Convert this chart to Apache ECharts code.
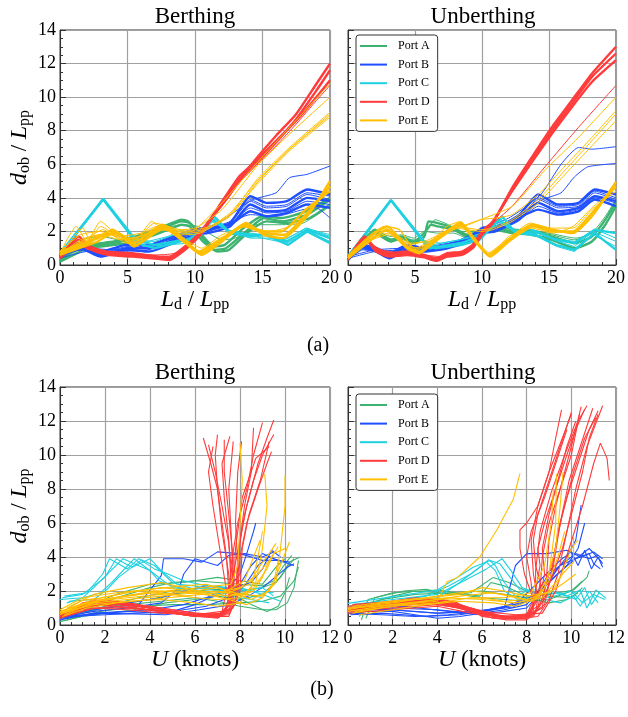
<!DOCTYPE html>
<html><head><meta charset="utf-8">
<script src="https://cdn.jsdelivr.net/npm/echarts@6/dist/echarts.min.js"></script>
<style>html,body{margin:0;padding:0;background:#fff}#c{width:628px;height:717px}</style>
</head><body><div id="c"></div>
<script>
const portNames = ['Port A', 'Port B', 'Port C', 'Port D', 'Port E'];
const portColors = ['#3cb371', '#1f4fff', '#1fd1e0', '#ff3b3b', '#ffbf00'];
const ldTicks = [0, 5, 10, 15, 20];
const uTicks = [0, 2, 4, 6, 8, 10, 12];
const dTicks = [0, 2, 4, 6, 8, 10, 12, 14];

// ---------- (a) Berthing, d_ob/L_pp vs L_d/L_pp ----------
const berthLdBand_A = [
  [[0,0.3],[1,0.8],[2,1.1],[3,1.2],[4,1.3],[5,1.5],[6,1.7],[7,1.9],[8,2.3],[9,2.6],[9.6,2.5],[10.6,1.6],[11.5,0.9],[12.3,1.0],[13.8,2.0],[15.1,2.8],[16.5,2.6],[18.3,3.0],[20,3.9]],
  [[0,0.2],[1,0.6],[2,1.0],[3,1.1],[4,1.2],[5,1.3],[6,1.5],[7,1.8],[8,2.1],[9,2.4],[9.6,2.3],[10.6,1.4],[11.7,0.8],[12.5,0.9],[14,2.0],[15.3,2.6],[16.7,2.5],[18.5,2.8],[20,3.6]],
  [[0,0.4],[1,1.0],[2,1.2],[3,1.3],[4,1.4],[5,1.6],[6,1.8],[7,2.1],[8,2.4],[9,2.7],[9.5,2.6],[10.5,1.8],[11.4,1.1],[12.2,1.2],[13.6,2.2],[15,2.9],[16.4,2.8],[18.2,3.2],[20,4.0]]
];
const berthLdThin_A = [
  [[0,0.5],[1.5,1.5],[3,1.7],[5,1.4],[7,2.0],[9,2.4],[10.2,2.3],[11,1.9],[12,1.5],[13,1.6],[14.5,2.4],[16,2.4],[18,2.5],[20,3.5]]
];
const berthLdBand_B = [
  [[0,0.5],[0.8,1.1],[1.5,1.2],[3,0.6],[4,0.8],[4.9,1.0],[6.6,1.0],[8.4,1.5],[9.9,2.0],[10.9,2.1],[12.6,2.5],[14.1,4.1],[15.3,3.7],[16.8,3.8],[18.3,4.5],[20,4.2]],
  [[0,0.4],[0.8,0.9],[1.5,1.0],[3,0.5],[4,0.7],[4.9,0.9],[6.6,0.8],[8.4,1.3],[9.9,1.8],[10.9,1.9],[12.6,2.3],[14.1,3.6],[15.3,3.2],[16.8,3.3],[18.3,4.0],[20,3.8]],
  [[0,0.6],[0.8,1.2],[1.5,1.3],[3,0.8],[4,1.0],[4.9,1.2],[6.6,1.2],[8.4,1.7],[9.9,2.1],[10.9,2.2],[12.6,2.4],[14.1,3.2],[15.3,2.9],[16.8,3.1],[18.3,3.6],[20,3.4]]
];
const berthLdThin_B = [
  [[0,0.5],[1,1.0],[2,0.9],[3,0.7],[5,1.1],[7,1.0],[8.5,1.6],[10,2.0],[11,2.2],[12.6,2.6],[14.1,3.9],[15.3,3.5],[16.8,3.6],[18.3,4.3],[20,4.1]],
  [[0,0.5],[2,1.0],[4,0.9],[6,1.1],[8,1.5],[10,2.1],[11.5,2.4],[13,3.2],[14.3,3.9],[16,4.3],[17,5.2],[18.3,5.4],[20,5.9]],
  [[0,0.4],[2,0.8],[4,0.8],[6,1.0],[8,1.4],[10,1.9],[12,2.3],[14.1,3.0],[16,2.9],[18,3.3],[19,3.4],[20,2.8]],
  [[0,0.5],[1,1.1],[2,1.0],[3,0.6],[4.5,0.9],[6.5,1.1],[8.4,1.6],[9.9,1.9],[10.9,2.0],[12.6,2.5],[14.1,3.8],[15.3,3.4],[16.8,3.5],[18.3,4.2],[20,3.9]],
  [[0,0.4],[1,0.9],[2,0.8],[3,0.5],[4.5,0.8],[6.5,0.9],[8.4,1.4],[9.9,1.9],[10.9,2.0],[12.6,2.4],[14.1,3.4],[15.3,3.1],[16.8,3.2],[18.3,3.8],[20,3.6]]
];
const berthLdBand_C = [
  [[0,0.6],[3.2,3.95],[5.6,1.5],[7,1.2],[8.5,1.4],[9.7,1.5],[10.5,1.9],[11.4,2.9],[12.6,1.9],[14.1,1.7],[15.3,1.8],[16.8,1.4],[18.3,2.1],[20,1.6]],
  [[0,0.7],[3.2,3.9],[5.7,1.3],[7,1.0],[8.5,1.3],[9.7,1.6],[10.5,2.1],[11.3,2.7],[12.5,2.0],[14,1.8],[15.2,1.8],[16.9,1.2],[18.3,2.0],[20,1.3]]
];
const berthLdThin_C = [
  [[0,0.5],[3.2,3.9],[5.4,1.7],[6.5,1.4],[8,1.7],[9,2.1],[10,1.6],[11,2.5],[11.6,2.8],[12.7,1.8],[14.2,1.9],[15.4,1.7],[16.7,1.5],[18.2,2.2],[20,1.8]],
  [[0,0.6],[3.2,3.9],[5.5,1.6],[6.2,1.1],[8,1.2],[9.5,1.3],[10.3,1.8],[11.2,2.6],[12.4,2.1],[13.5,1.9],[15,1.6],[16.8,1.3],[18.4,2.0],[20,1.4]],
  [[0,0.6],[3.2,3.9],[5.5,1.5],[7,1.4],[8.5,1.8],[9.5,1.9],[10.4,1.7],[11.4,2.7],[12.6,2.0],[14.1,1.6],[15.3,1.6],[16.8,1.6],[18.3,2.2],[20,1.7]]
];
const berthLdBand_D = [
  [[0,0.5],[1.4,1.7],[2,1.2],[3.5,0.7],[5.4,0.6],[7.4,0.4],[8.1,0.4],[9.4,1.1],[10.4,1.9],[12.1,3.9],[13.3,5.3],[14.6,6.25],[16,7.4],[17.5,8.6],[19,10.0],[20,11.0]],
  [[0,0.6],[1.4,1.5],[2,1.1],[3.5,0.8],[5.4,0.7],[7.4,0.5],[8.1,0.5],[9.4,1.2],[10.4,2.0],[12.1,3.7],[13.3,5.0],[14.6,6.1],[16,7.3],[17.5,8.7],[19,10.4],[20,11.6]],
  [[0,0.4],[1.4,1.3],[2,1.0],[3.5,0.6],[5.4,0.5],[7.4,0.35],[8.1,0.3],[9.4,1.0],[10.4,1.8],[12.1,3.8],[13.3,5.1],[14.6,6.4],[16,7.7],[17.5,9.0],[19,10.8],[20,12.0]]
];
const berthLdThin_D = [
  [[0,0.5],[1.5,1.2],[3,0.8],[5,0.7],[7,0.6],[8.5,0.7],[9.5,1.3],[10.4,2.0],[12.1,3.6],[13.3,4.9],[14.6,6.0],[16,7.1],[17.5,8.4],[19,9.8],[20,10.7]]
];
const berthLdBand_E = [
  [[0,0.8],[2.1,1.4],[2.8,1.6],[3.9,2.1],[5.5,1.1],[7.65,2.3],[9.2,1.5],[10.4,0.7],[12,1.5],[13.8,2.5],[15.1,1.8],[16.5,1.6],[18.3,2.9],[20,5.0]],
  [[0,0.6],[2.1,1.2],[2.8,1.4],[4.1,2.0],[5.6,1.2],[7.7,2.2],[9.3,1.3],[10.5,0.6],[12,1.4],[13.7,2.4],[15.2,1.9],[16.6,1.8],[18.3,3.1],[20,4.7]],
  [[0,0.7],[2.1,1.3],[2.8,1.7],[4.3,1.9],[5.4,1.3],[7.6,2.4],[9.1,1.6],[10.3,0.8],[12,1.6],[13.6,2.3],[15,2.0],[16.4,2.0],[18.2,3.3],[20,4.4]]
];
const berthLdThin_E = [
  [[0,0.7],[1.2,2.3],[2,1.4],[3,2.6],[4.2,1.8],[5.5,1.4],[6.8,2.6],[7.5,2.2],[9,2.0],[10,2.1],[11.1,2.3],[12.6,3.1],[14.6,5.0],[17,6.9],[20,9.0]],
  [[0,0.6],[1.7,2.2],[2.2,1.5],[3,2.3],[4.5,1.6],[5.5,1.5],[7.0,2.5],[8,2.3],[9.5,2.0],[10.6,2.1],[12.6,3.0],[14.6,4.8],[17,6.8],[20,8.8]],
  [[0,0.8],[1.5,1.8],[3,2.0],[4.2,1.7],[6,1.9],[7.2,2.3],[8.5,2.1],[10,2.2],[12,3.3],[14.6,5.9],[17,7.8],[20,10.0]],
  [[0,0.6],[1.5,1.5],[3,1.8],[4.5,1.5],[6,1.7],[7.5,2.1],[9,1.9],[10,2.1],[12,3.7],[14.6,6.1],[17,8.2],[20,10.8]],
  [[0,0.7],[2,1.6],[3.5,1.9],[5,1.3],[6.5,2.0],[8,2.2],[9,1.8],[10.4,1.9],[12.6,3.0],[14.6,5.1],[17,7.0],[20,9.1]],
  [[0,0.6],[1.8,1.5],[3.2,2.1],[4.6,1.5],[6.2,1.8],[7.8,2.3],[9.2,1.9],[10.5,2.0],[12.6,2.9],[14.6,4.9],[17,6.9],[20,8.9]],
  [[0,0.7],[2,1.5],[4,1.8],[6,1.5],[7.7,2.1],[9.3,1.5],[10.5,1.0],[12,1.8],[13.8,2.3],[15.5,2.0],[17,2.3],[18.5,3.2],[20,4.6]]
];

// ---------- (a) Unberthing ----------
const unberthLdBand_A = [
  [[0,0.4],[1.2,1.5],[2.0,2.1],[3.2,1.5],[4.0,1.7],[4.9,1.4],[5.7,1.9],[6.2,2.4],[6.7,2.3],[7.9,2.1],[8.9,1.7],[9.9,1.9],[11,2.2],[12.25,2.0],[13.7,2.0],[15.2,1.7],[16.9,1.3],[18.2,1.7],[19.2,2.7],[20,3.8]],
  [[0,0.3],[1.2,1.3],[2.0,1.9],[3.2,1.4],[4.0,1.6],[4.9,1.3],[5.7,1.7],[6.0,2.6],[6.7,2.5],[7.9,2.2],[8.9,1.8],[9.9,2.0],[11,2.1],[12.25,1.9],[13.7,1.8],[15.2,1.5],[16.9,1.0],[18.2,1.4],[19.2,2.4],[20,3.5]]
];
const unberthLdThin_A = [
  [[0,0.5],[1.2,1.6],[2.0,2.0],[3.2,1.7],[4.0,1.8],[4.9,1.6],[5.7,2.0],[6.7,1.9],[7.9,1.9],[8.9,1.6],[9.9,1.8],[11,2.3],[12.25,2.1],[13.7,2.1],[15.2,1.8],[16.9,1.5],[18.2,1.9],[19.2,2.9],[20,3.9]],
  [[0,0.4],[1.5,1.4],[2.2,1.8],[3.5,1.5],[5,1.5],[5.9,2.1],[6.5,2.7],[7.5,2.4],[8.5,2.0],[10,2.0],[11.5,2.2],[13,2.1],[15,1.9],[17,1.6],[18.5,2.0],[20,3.6]]
];
const unberthLdBand_B = [
  [[0,0.3],[1.1,1.1],[2.1,0.9],[3.1,0.5],[4.4,1.1],[5.7,0.9],[7.4,1.1],[9,1.5],[10,2.1],[11,2.1],[12.7,2.9],[14.2,4.2],[15.7,3.6],[17.2,3.7],[18.4,4.5],[20,4.2]],
  [[0,0.4],[1.1,1.0],[2.1,0.8],[3.1,0.4],[4.4,0.9],[5.7,0.8],[7.4,1.0],[9,1.4],[10,1.9],[11,2.0],[12.7,2.7],[14.2,3.7],[15.7,3.2],[17.2,3.4],[18.4,4.1],[20,3.8]],
  [[0,0.5],[1.1,1.2],[2.1,1.0],[3.1,0.7],[4.4,1.2],[5.7,1.0],[7.4,1.2],[9,1.6],[10,2.2],[11,2.3],[12.7,2.8],[14.2,3.3],[15.7,3.0],[17.2,3.2],[18.4,3.9],[20,3.5]]
];
const unberthLdThin_B = [
  [[0,0.4],[1,1.0],[2,0.9],[3,0.6],[4.5,1.0],[6,1.0],[7.5,1.1],[9,1.5],[10,2.0],[11,2.2],[12.7,3.0],[14.2,4.0],[15.7,3.5],[17.2,3.6],[18.4,4.4],[20,4.0]],
  [[0,0.5],[2,0.9],[4,1.0],[6,1.1],[8,1.4],[10,2.1],[12,2.8],[13.5,3.6],[14.5,4.3],[15.9,6.0],[17.2,7.0],[18.2,6.9],[20,7.05]],
  [[0,0.4],[2,0.8],[4,0.9],[6,1.0],[8,1.3],[10,2.0],[12,2.6],[13.5,3.4],[14.5,3.9],[15.9,4.3],[16.9,5.25],[17.9,5.85],[20,6.05]],
  [[0,0.4],[1.1,1.1],[2.1,0.9],[3.1,0.6],[4.4,1.0],[5.7,0.9],[7.4,1.1],[9,1.5],[10,2.0],[11,2.1],[12.7,2.8],[14.2,3.9],[15.7,3.4],[17.2,3.5],[18.4,4.3],[20,3.9]],
  [[0,0.3],[1.1,0.9],[2.1,0.8],[3.1,0.5],[4.4,0.9],[5.7,0.8],[7.4,1.0],[9,1.4],[10,1.9],[11,2.0],[12.7,2.6],[14.2,3.5],[15.7,3.1],[17.2,3.3],[18.4,4.0],[20,3.7]]
];
const unberthLdBand_C = [
  [[0,0.5],[3.2,3.87],[5.7,1.4],[6.1,1.0],[8.5,1.3],[9.8,1.7],[11.5,2.9],[12.5,1.9],[14,2.0],[15.5,1.5],[16.9,1.3],[18.4,2.1],[20,1.9]],
  [[0,0.4],[3.2,3.85],[5.8,1.2],[6.5,1.0],[8.5,1.2],[9.8,1.5],[11.3,2.7],[12.4,2.0],[14,1.8],[15.5,1.2],[16.9,0.9],[18.4,1.9],[20,0.9]]
];
const unberthLdThin_C = [
  [[0,0.6],[3.2,3.85],[5.6,1.5],[6.3,1.2],[8.3,1.5],[10,1.9],[11.6,2.8],[12.7,1.8],[14.2,1.9],[15.7,1.4],[16.9,1.1],[18.3,2.0],[20,1.4]],
  [[0,0.5],[3.2,3.85],[5.7,1.3],[6.8,1.1],[8.7,1.4],[10,1.8],[11.2,2.6],[12.3,2.1],[13.8,2.1],[15.3,1.6],[16.9,1.4],[18.5,2.1],[20,1.6]],
  [[0,0.5],[3.2,3.85],[5.6,1.4],[7,1.3],[9,1.6],[10.3,2.0],[11.4,2.5],[12.6,1.9],[14.1,1.7],[15.6,1.1],[16.9,0.8],[18.3,1.8],[20,1.1]]
];
const unberthLdBand_D = [
  [[0,0.35],[1.26,1.7],[2.1,0.9],[3.1,0.6],[4.4,0.7],[5.7,0.5],[6.6,0.3],[7.4,0.6],[8.5,0.7],[9.3,1.1],[10,1.9],[10.8,2.5],[12.25,4.5],[13.7,6.25],[15.2,8.0],[16.7,9.6],[18.2,11.2],[20,12.6]],
  [[0,0.45],[1.26,1.5],[2.1,1.0],[3.1,0.7],[4.4,0.8],[5.7,0.6],[6.6,0.4],[7.4,0.7],[8.5,0.8],[9.3,1.2],[10,2.0],[10.8,2.6],[12.25,4.4],[13.7,6.1],[15.2,7.8],[16.7,9.4],[18.2,10.9],[20,12.2]],
  [[0,0.3],[1.26,1.6],[2.1,0.8],[3.1,0.5],[4.4,0.6],[5.7,0.45],[6.6,0.25],[7.4,0.5],[8.5,0.6],[9.3,1.0],[10,1.8],[10.8,2.5],[12.25,4.6],[13.7,6.4],[15.2,8.2],[16.7,9.8],[18.2,11.4],[20,13.0]]
];
const unberthLdThin_D = [
  [[0,0.4],[1.3,1.4],[2.5,0.9],[4,0.7],[5.5,0.6],[7,0.5],[8.5,0.8],[9.3,1.1],[10,1.9],[12.25,3.5],[14.7,5.85],[17.2,8.2],[20,10.7]]
];
const unberthLdBand_E = [
  [[0,0.5],[1.4,1.5],[2.9,2.3],[4.4,1.1],[5.3,0.8],[6.5,1.5],[8.4,2.5],[9.5,1.5],[10.5,0.6],[12,1.5],[13.7,2.4],[15.3,2.1],[16.8,1.9],[18.2,2.9],[20,4.95]],
  [[0,0.4],[1.4,1.3],[2.9,2.1],[4.4,1.0],[5.3,0.7],[6.5,1.4],[8.4,2.4],[9.6,1.3],[10.6,0.5],[12,1.4],[13.8,2.3],[15.3,2.0],[16.8,2.0],[18.2,3.1],[20,4.7]]
];
const unberthLdThin_E = [
  [[0,0.6],[1.4,1.6],[2.8,2.3],[3.9,2.1],[4.9,0.9],[6,1.3],[7.4,2.3],[8.4,2.6],[9.4,1.6],[10.4,0.7],[12,1.6],[13.6,2.5],[15.2,2.2],[16.8,2.2],[18.2,3.3],[20,4.4]],
  [[0,0.5],[1.5,1.7],[2.7,2.3],[3.8,2.1],[5,1.0],[6.5,1.6],[8,2.3],[9.9,2.1],[10.8,2.2],[12.25,2.7],[14.2,3.9],[16.2,5.65],[18.2,7.4],[20,9.0]],
  [[0,0.4],[1.5,1.4],[2.8,2.0],[4,1.6],[5.2,0.9],[6.7,1.7],[8,2.2],[9.9,2.0],[10.8,2.1],[12.25,2.6],[14.2,3.7],[16.2,5.4],[18.2,7.1],[20,8.6]],
  [[0,0.5],[1.6,1.5],[3,1.9],[4.5,1.2],[6,1.5],[7.5,2.1],[8.8,2.4],[9.9,2.7],[11,2.8],[12.25,3.0],[14.2,4.2],[16.2,5.9],[18.2,7.6],[20,9.2]],
  [[0,0.5],[1.5,1.4],[3,1.8],[4.5,1.3],[6,1.4],[7.5,2.0],[9,2.4],[9.9,2.7],[12.25,3.5],[14.7,5.65],[17.2,7.6],[20,10.0]],
  [[0,0.5],[1.5,1.6],[2.8,2.2],[4.2,1.2],[5.5,1.0],[7,1.8],[8.4,2.3],[9.6,1.4],[10.6,0.7],[12,1.7],[13.7,2.2],[15.3,1.9],[16.8,2.3],[18.2,3.4],[20,4.6]]
];

// ---------- (b) Berthing, d_ob/L_pp vs U ----------
const berthU_A = [
  [[0,0.2],[1,0.5],[1.8,0.65],[3.3,0.9],[4.7,1.3],[6,1.5],[7,1.7],[8,1.5],[9,1.8],[9.8,2.8],[10.2,3.7],[10.67,4.0]],
  [[0,0.3],[1,0.7],[2,1.0],[3,1.3],[4,1.5],[5,1.8],[6,2.0],[7,2.1],[8,2.0],[9,2.2],[9.6,2.5],[10,3.2],[10.4,3.9]],
  [[0.2,0.5],[1.5,0.9],[3,1.2],[4.5,1.4],[6,1.6],[7,1.4],[8,1.1],[9,0.9],[9.6,0.9],[10.1,1.3],[10.4,2.2],[10.6,3.8]],
  [[0,0.4],[1,0.8],[2.5,1.6],[4,2.2],[5,2.5],[6,2.6],[7,2.5],[8,2.4],[9,2.3],[9.5,2.6],[10,3.6],[10.3,4.1]],
  [[0.5,0.6],[2,1.1],[3.5,1.6],[5,2.0],[6.5,2.2],[7.5,1.9],[8.5,1.2],[9.2,0.8],[9.7,1.1],[10,1.9],[10.2,2.8]],
  [[1,1.0],[2.5,1.8],[4,2.4],[5.5,2.5],[7,2.8],[8,2.6],[9,2.4],[9.6,3.4],[10,3.9]],
  [[0.3,0.3],[1.8,0.8],[3.5,1.1],[5,1.2],[6.5,1.2],[8,1.3],[9,1.4],[9.8,1.7],[10.4,2.6],[10.6,3.4]]
];
const berthU_B = [
  [[0,0.45],[1,0.6],[1.8,0.7],[3.3,0.65],[4.7,0.6],[6.2,0.9],[7.6,1.2],[8.5,1.8],[9.1,2.3],[10.1,3.4],[10.4,3.6]],
  [[0,0.3],[1.5,0.7],[3,0.8],[4.5,0.7],[5.5,0.9],[6.5,1.1],[7.5,1.6],[8.2,2.3],[8.8,3.5],[9.3,4.0],[9.7,3.8],[10.2,3.7]],
  [[0.3,0.6],[2,1.0],[3.5,1.2],[4.5,2.9],[4.6,3.9],[5.5,3.9],[6.3,3.7],[7.0,4.3],[8.0,4.2],[9.0,3.8],[9.7,3.8]],
  [[0.2,0.5],[1.5,0.8],[3,1.0],[4.5,1.3],[5.3,2.2],[5.5,3.0],[6.0,3.9],[7.0,3.5],[7.5,4.1],[8.2,4.2],[9,4.0],[9.5,4.3]],
  [[0,0.4],[2,0.7],[4,0.9],[5.5,1.2],[6.5,1.6],[7.5,2.2],[8,3.0],[8.3,4.2],[8.6,5.5],[8.7,6.0]],
  [[0.5,0.5],[2,0.6],[3.5,0.7],[5,0.8],[6,1.2],[7,1.8],[8,2.4],[8.5,3.5],[9,4.2],[9.5,3.9],[10.4,3.5]],
  [[0,0.6],[1.5,1.1],[3,1.3],[4.5,1.6],[5.5,2.0],[6.5,2.3],[7.5,2.1],[8.5,2.5],[9,3.3],[9.4,4.4],[9.8,4.0]]
];
const berthU_C = [
  [[0.1,1.6],[1,1.8],[2,2.8],[2.5,3.9],[3.2,3.4],[4.0,3.9],[4.5,3.2],[5.2,2.4],[6,2.3],[7,2.0],[8,2.2],[9,1.8],[9.8,1.4]],
  [[0.2,1.7],[1.2,1.9],[1.9,3.0],[2.2,3.9],[3.0,3.3],[3.5,3.9],[4.2,3.5],[5.0,2.5],[6,2.1],[7,2.3],[8,1.9],[9,1.6]],
  [[0,1.5],[1,1.6],[1.5,2.2],[2.8,3.9],[3.3,3.6],[4,3.2],[4.4,2.6],[5,2.3],[6,2.0],[7,1.8],[8,2.0],[9,2.2],[9.5,1.7]],
  [[0.3,1.3],[1.8,1.9],[2.3,2.5],[3.3,3.9],[3.8,3.4],[4.2,3.0],[5.0,2.2],[6.2,2.0],[7.5,1.7],[8.5,1.5],[9.3,1.3]],
  [[0.4,1.4],[1.5,1.5],[2.1,2.1],[2.6,2.8],[3.1,3.3],[3.6,3.8],[4.2,3.3],[4.8,3.0],[5.5,2.6],[6.5,2.3],[7.5,2.2],[8.5,2.0],[9.5,1.9]]
];
const berthU_D = [
  [[0,0.5],[1,1.3],[2,1.5],[3,1.2],[4,1.0],[5,0.8],[6,0.6],[7,0.5],[7.4,0.8],[7.5,2.0],[7.4,4.0],[7.2,6.0],[7.0,8.0],[6.7,9.5],[6.37,11.0]],
  [[0,0.6],[1,1.2],[2,1.4],[3,1.1],[4,0.9],[5,0.7],[6,0.5],[7,0.45],[7.5,0.7],[7.6,2.5],[7.5,5.0],[7.3,7.5],[7.2,9.5],[7.55,11.1]],
  [[0,0.4],[1,1.0],[2,1.2],[3,1.0],[4,0.9],[5,0.7],[6,0.6],[7,0.6],[7.7,1.0],[7.7,3.0],[7.6,5.5],[7.5,8.0],[7.7,10.8]],
  [[0.2,0.7],[1.5,1.5],[2.5,1.3],[3.5,1.1],[4.5,0.9],[5.5,0.6],[6.5,0.5],[7.3,0.6],[7.8,1.2],[7.9,3.5],[7.8,6.0],[7.9,9.0],[8.07,10.8]],
  [[0,0.5],[1,1.1],[2,1.3],[3,1.2],[4,1.1],[5,0.9],[6,0.7],[7,0.6],[7.6,1.0],[7.7,3.0],[8.0,5.0],[8.3,7.0],[8.8,9.5],[9.2,11.0],[9.5,12.06]],
  [[0.3,0.6],[1.5,1.2],[3,1.0],[4.5,0.8],[6,0.5],[7,0.5],[7.5,1.2],[7.6,3.5],[7.9,6.0],[8.3,8.0],[8.6,10.0],[9.0,11.9]],
  [[0.1,0.5],[1.2,1.3],[2.5,1.4],[4,1.0],[5.5,0.7],[7,0.55],[7.8,1.5],[7.9,4.0],[8.2,6.5],[8.6,8.5],[9.0,10.0],[9.5,11.2]],
  [[0,0.4],[1,0.9],[2.5,1.1],[4,0.9],[5.5,0.6],[7,0.4],[7.6,0.9],[7.5,3.0],[7.2,5.5],[7.0,8.0],[6.9,10.0],[7.0,11.2]],
  [[0.2,0.5],[1.5,1.0],[3,0.9],[4.5,0.7],[6,0.6],[7.3,0.7],[7.9,2.5],[8.0,5.0],[8.2,7.0],[8.5,9.0],[8.6,11.6]],
  [[0.1,0.6],[2,1.3],[4,1.0],[6,0.6],[7.2,0.8],[7.4,2.0],[7.1,4.5],[6.8,7.0],[6.6,9.0],[6.8,10.5]],
  [[0,0.5],[1.5,1.4],[3,1.3],[4.5,1.0],[6,0.7],[7.2,0.6],[7.7,1.6],[7.8,4.5],[8.1,7.5],[8.7,9.8],[9.3,10.5]],
  [[0,0.5],[1.2,1.2],[2.8,1.2],[4.2,1.0],[5.8,0.6],[7.1,0.5],[7.6,1.3],[7.7,3.8],[7.5,6.5],[7.3,9.0],[7.3,10.9]],
  [[0.2,0.6],[1.8,1.3],[3.5,1.1],[5,0.8],[6.5,0.5],[7.5,0.6],[8.0,2.0],[8.1,4.5],[8.4,6.5],[8.9,8.5],[9.3,10.8]],
  [[0,0.4],[1.5,1.0],[3,1.0],[4.5,0.8],[6,0.5],[7.2,0.5],[7.7,2.2],[7.5,4.8],[7.2,7.0],[6.9,9.0],[6.6,10.6]],
  [[0.1,0.5],[1.6,1.4],[3.2,1.2],[4.8,0.8],[6.3,0.5],[7.5,0.5],[7.9,1.8],[8.0,4.0],[8.3,6.0],[8.8,8.0],[9.2,9.5],[9.4,10.2]]
];
const berthU_E = [
  [[0,0.7],[1,1.45],[1.8,1.6],[3.3,2.0],[4.7,2.0],[6.2,2.2],[7.6,2.4],[7.9,3.5],[8.0,6.0],[8.1,8.5],[8.0,10.7]],
  [[0,0.6],[1,1.2],[2,1.5],[3,1.7],[4,1.9],[5,1.8],[6,1.6],[7,1.5],[8,1.6],[8.7,2.5],[9.0,4.5],[9.2,7.0],[9.1,8.9]],
  [[0.2,0.8],[1.5,1.4],[3,1.6],[4.5,1.8],[6,2.0],[7,2.2],[8,1.8],[9,1.7],[9.6,2.5],[9.8,4.5],[10.0,7.0],[10.0,8.8]],
  [[0,0.9],[1,1.6],[2.5,1.9],[4,2.1],[5.5,2.3],[6.5,2.4],[7.5,2.0],[8.5,1.5],[9.3,2.0],[9.8,3.5],[10.2,4.9]],
  [[0.1,0.5],[1.2,1.0],[2.5,1.3],[4,1.5],[5.5,1.7],[7,1.9],[8,2.2],[8.8,3.0],[9.3,3.8],[9.7,4.6]],
  [[0.3,1.0],[1.5,1.8],[3,2.2],[4.5,2.5],[5.5,2.2],[6.5,1.9],[7.5,1.7],[8.5,2.0],[9.2,3.3],[9.5,4.2],[10.0,4.5]],
  [[0,0.7],[1.5,1.2],[3,1.4],[4.5,1.5],[6,1.3],[7,1.1],[8,1.3],[8.5,2.2],[8.8,4.0],[9.0,5.5]],
  [[0.2,0.6],[1.8,1.5],[3.5,1.8],[5,2.0],[6.5,1.8],[7.5,1.5],[8.3,1.2],[9,1.6],[9.5,2.5],[9.7,3.8]],
  [[0,0.8],[1.2,1.3],[2.8,1.7],[4.2,2.0],[5.8,1.9],[7,1.7],[8.2,2.6],[8.6,4.0],[8.9,5.0]],
  [[0,0.8],[1.5,1.5],[3,1.9],[4.5,2.2],[6,2.0],[7.5,1.9],[8.4,2.4],[8.9,3.5],[9.3,4.2],[9.6,4.8]],
  [[0.2,0.7],[1.5,1.3],[3,1.5],[4.5,1.7],[6,1.9],[7,2.0],[8,1.7],[8.6,2.0],[9.0,2.8],[9.2,3.5],[9.4,4.0]]
];

// ---------- (b) Unberthing ----------
const unberthU_A = [
  [[0.6,0.3],[0.9,1.5],[2,1.9],[4,2.06],[5.9,1.7],[6.4,2.5],[7,2.3],[8,1.7],[9,1.8],[10.1,2.06],[10.7,2.8],[10.8,3.2]],
  [[0.5,0.5],[1,1.3],[2,1.7],[3,2.0],[4,1.9],[5,1.8],[6,1.6],[7,1.5],[8,1.4],[9,1.5],[10,2.0],[10.5,2.6]],
  [[0.8,0.4],[1.2,1.6],[2.5,2.0],[3.5,2.1],[4.5,1.8],[5.5,1.9],[6.5,2.8],[7.2,2.5],[8,2.0],[9,1.7],[10,1.6],[10.5,2.2]],
  [[0.4,0.6],[1.5,1.5],[3,1.8],[4.5,1.9],[6,2.0],[7,1.8],[8,1.6],[9,1.3],[9.8,1.5],[10.3,1.9]]
];
const unberthU_B = [
  [[0,0.98],[2,0.88],[4,0.69],[6.07,0.88],[7.4,1.06],[8.4,1.65],[9.2,2.8],[10.1,3.8],[10.8,4.5],[11.3,3.8],[11.4,3.6]],
  [[0,0.8],[2,0.8],[3,0.6],[4,0.4],[5,0.5],[6,0.7],[7,0.9],[8,1.2],[8.5,2.0],[9,3.0],[9.5,3.5],[10,3.8],[10.8,4.2],[11,3.6],[11.3,3.3]],
  [[0,0.7],[1.5,0.6],[3,0.5],[4.5,0.6],[6,0.8],[7,1.0],[7.5,3.5],[8,4.2],[8.9,4.2],[9.8,4.4],[10.4,4.0],[11,4.3],[11.4,3.9]],
  [[0.2,0.9],[2,1.0],[4,0.9],[5.5,0.7],[7,1.1],[8.5,1.8],[9.3,3.2],[9.8,4.0],[10.2,5.0],[10.44,7.06]],
  [[0.1,0.6],[1.5,0.7],[3.5,0.5],[5,0.6],[6.5,0.9],[8,1.4],[9,2.5],[9.8,3.5],[10.3,4.5],[10.6,6.0]],
  [[0.3,1.0],[2.5,1.1],[4.5,0.8],[6,0.6],[7,0.8],[8,1.0],[8.8,2.2],[9.5,3.5],[10.2,4.2],[10.8,3.9],[11.2,4.1]],
  [[0,0.9],[2,0.9],[4,0.7],[6,0.8],[7.5,1.2],[8.5,2.5],[9.5,3.8],[10,4.3],[10.3,3.5],[10.6,4.4],[10.9,3.3],[11.2,4.0],[11.4,3.4]]
];
const unberthU_C = [
  [[0,1.27],[2,1.67],[4,2.06],[4.9,2.8],[5.6,3.4],[6.37,3.8],[6.8,3.6],[7.26,2.8],[7.7,2.06],[8.9,2.06],[9.8,1.7],[10.4,2.06],[10.7,1.0],[11.1,2.06],[11.56,1.57]],
  [[0,1.1],[2,1.4],[4,1.6],[5,2.5],[6,3.5],[6.3,3.85],[6.6,3.5],[7,2.5],[7.5,1.7],[8,2.0],[9,1.6],[10,2.0],[10.5,1.3],[11,1.8],[11.5,1.5]],
  [[0.2,1.2],[2,1.5],[4,1.8],[5.2,2.6],[6.2,3.3],[6.9,3.9],[7.3,3.2],[7.8,2.2],[8.5,1.8],[9.5,1.9],[10.2,1.5],[10.6,2.2],[10.9,1.2],[11.3,2.0]],
  [[0.1,1.0],[1.5,1.3],[3.5,1.7],[4.5,2.3],[5.5,3.0],[6.2,3.7],[6.6,3.2],[7,2.0],[7.6,1.5],[8.5,1.6],[9.5,1.3],[10.1,1.7],[10.4,1.1],[10.8,2.0],[11.2,1.3]]
];
const unberthU_D = [
  [[0,0.9],[2,1.2],[3.5,1.5],[4.5,1.3],[5.5,0.9],[6,0.5],[7,0.4],[8,0.4],[8.5,1.5],[8.3,3.0],[8.2,5.0],[8.5,7.0],[9,9.0],[9.3,11.0],[9.56,12.65]],
  [[0,1.0],[2,1.3],[4,1.57],[4.9,1.3],[6.07,0.5],[7.1,0.3],[8,0.3],[8.4,0.7],[8.6,2.5],[8.4,3.5],[8.3,5.0],[8.5,6.5],[9,8.5],[9.5,10.5],[10,12.5]],
  [[0.2,0.8],[2,1.1],[3.5,1.3],[5,1.0],[6,0.6],[7,0.5],[8,0.5],[8.7,1.0],[8.9,3.0],[9.0,5.0],[9.3,7.0],[9.7,9.0],[10.1,11.0],[10.44,12.84]],
  [[0,1.1],[1.5,1.3],[3,1.6],[4.5,1.4],[5.5,1.0],[6.5,0.6],[7.5,0.5],[8.3,0.6],[8.8,1.5],[9.2,3.5],[9.5,6.0],[9.9,8.5],[10.4,10.5],[10.96,12.75]],
  [[0.1,0.9],[2,1.2],[4,1.4],[5.5,0.8],[6.5,0.4],[7.5,0.35],[8.5,0.5],[9.0,1.5],[9.4,3.0],[9.8,5.5],[10.2,8.0],[10.7,10.5],[11.4,12.9]],
  [[0.3,1.0],[2.5,1.4],[4,1.5],[5,1.1],[6,0.7],[7,0.5],[8,0.6],[8.3,1.5],[7.9,3.0],[7.7,4.5],[7.7,5.6],[8.0,6.0],[8.5,7.0],[9.0,9.0],[9.6,11.0],[10.0,12.4]],
  [[0,0.8],[2,1.0],[4,1.2],[5,1.0],[6,0.6],[7,0.45],[8,0.5],[8.2,1.0],[8.6,2.0],[8.7,4.0],[9.0,6.0],[9.5,8.0],[10.0,10.0],[10.37,12.4]],
  [[0.2,1.2],[2,1.4],[4,1.3],[6,0.8],[7.5,0.6],[8.7,0.7],[9.3,2.0],[9.9,4.5],[10.5,7.0],[11.0,9.5],[11.3,10.7],[11.6,9.8],[11.7,8.5]],
  [[0,0.7],[2,0.9],[4,1.1],[5.5,0.7],[7,0.5],[8.2,0.6],[8.6,3.5],[8.5,4.5],[8.8,6.0],[9.3,8.0],[9.8,10.0],[10.2,11.5],[10.6,12.7]],
  [[0.1,1.0],[1.8,1.2],[3.5,1.4],[5,1.2],[6.2,0.7],[7.3,0.4],[8.3,0.5],[8.9,2.0],[9.6,4.5],[10.1,7.0],[10.5,9.0],[10.8,11.0],[11.2,12.4]],
  [[0,0.9],[2,1.1],[4,1.3],[5.5,0.8],[7,0.4],[8,0.4],[8.5,1.0],[8.8,3.0],[8.7,4.5],[9.0,6.5],[9.4,8.5],[9.8,10.5],[10.2,12.0]],
  [[0.2,1.0],[2,1.3],[4,1.4],[5.5,0.9],[6.8,0.5],[8,0.4],[8.8,1.2],[9.1,3.0],[9.4,5.5],[9.8,7.5],[10.3,9.5],[10.8,11.5],[11.2,12.6]],
  [[0,0.8],[2,1.2],[4,1.5],[5,1.2],[6,0.7],[7.5,0.4],[8.3,0.8],[8.2,2.5],[8.0,4.0],[8.2,5.5],[8.8,7.5],[9.3,9.5],[9.8,11.5]],
  [[0.1,1.1],[2,1.3],[3.8,1.5],[5.2,1.0],[6.5,0.5],[7.8,0.5],[8.6,1.2],[8.9,2.5],[9.2,4.0],[9.6,6.5],[10.1,9.0],[10.6,11.0],[11.1,12.2]],
  [[0,1.0],[2,1.2],[4,1.4],[5.5,1.0],[7,0.5],[8,0.5],[8.4,1.4],[8.4,3.2],[8.6,5.5],[9.1,7.8],[9.7,10.0],[10.3,12.0],[10.7,12.9]]
];
const unberthU_E = [
  [[0,0.98],[2,1.2],[4,1.4],[4.44,2.55],[4.9,2.8],[5.9,4.0],[6.67,5.6],[7.4,7.4],[7.7,8.9]],
  [[0,0.8],[2,1.2],[4,1.5],[6,1.6],[7,1.4],[8,1.5],[8.5,1.7],[9,3.0],[9.3,6.0],[9.33,8.9]],
  [[0.2,0.7],[1.5,1.0],[3,1.3],[5,1.7],[6.5,1.9],[7.5,1.6],[8.3,1.4],[8.8,2.2],[9.3,4.5],[9.5,7.0],[9.63,9.0]],
  [[0,1.0],[2,1.3],[4,1.7],[5.5,2.0],[7,1.8],[8,1.5],[9.2,2.06],[9.6,3.0],[10.1,3.7],[10.1,5.2]],
  [[0.5,0.6],[2,0.9],[3.5,1.2],[5,1.4],[6.5,1.3],[7.5,1.1],[8.5,1.6],[9,2.6],[9.4,4.0],[9.7,5.5]],
  [[0.2,1.1],[1.8,1.4],[3.5,1.6],[5,1.8],[6,2.2],[7,2.0],[8,1.7],[9,1.9],[9.7,2.5],[10.2,3.0]],
  [[0,0.9],[1.5,1.3],[3,1.5],[4.5,1.6],[6,1.5],[7.5,1.3],[8.7,1.6],[9.5,2.8],[10,4.5],[10.3,5.0]],
  [[0.3,0.8],[2,1.1],[4,1.3],[5.5,1.6],[7,1.6],[8.2,1.9],[8.8,3.5],[9.1,6.0],[9.2,8.0]]
];

// ---------- build ----------
const FONT = '"Liberation Serif", "DejaVu Serif", serif';
const panels = [
  { left: 60, top: 30, height: 235, xMax: 20, xInt: 5, xMinor: 5, yLabels: true, smooth: true,
    sets: [[berthLdBand_A, berthLdThin_A], [berthLdBand_B, berthLdThin_B], [berthLdBand_C, berthLdThin_C], [berthLdBand_D, berthLdThin_D], [berthLdBand_E, berthLdThin_E]] },
  { left: 348, top: 30, height: 235, xMax: 20, xInt: 5, xMinor: 5, yLabels: false, smooth: true,
    sets: [[unberthLdBand_A, unberthLdThin_A], [unberthLdBand_B, unberthLdThin_B], [unberthLdBand_C, unberthLdThin_C], [unberthLdBand_D, unberthLdThin_D], [unberthLdBand_E, unberthLdThin_E]] },
  { left: 60, top: 387, height: 238, xMax: 12, xInt: 2, xMinor: 4, yLabels: true, smooth: false,
    sets: [[[], berthU_A], [[], berthU_B], [[], berthU_C], [[], berthU_D], [[], berthU_E]] },
  { left: 348, top: 387, height: 238, xMax: 12, xInt: 2, xMinor: 4, yLabels: false, smooth: false,
    sets: [[[], unberthU_A], [[], unberthU_B], [[], unberthU_C], [[], unberthU_D], [[], unberthU_E]] }
];

const richName = {
  i: { fontFamily: FONT, fontStyle: 'italic', fontSize: 24, lineHeight: 26, color: '#000' },
  s: { fontFamily: FONT, fontSize: 16, lineHeight: 8, verticalAlign: 'bottom', color: '#000' },
  n: { fontFamily: FONT, fontSize: 23, lineHeight: 26, color: '#000' }
};

const grids = [], xAxes = [], yAxes = [], series = [];
panels.forEach((p, gi) => {
  grids.push({ left: p.left, top: p.top, width: 270, height: p.height, show: true, borderColor: '#333', borderWidth: 1, backgroundColor: 'transparent', containLabel: false });
  xAxes.push({
    type: 'value', gridIndex: gi, min: 0, max: p.xMax, interval: p.xInt,
    name: gi < 2 ? '{i|L}{s|d}{n| / }{i|L}{s|pp}' : '{i|U}{n| (knots)}',
    nameLocation: 'middle', nameGap: gi < 2 ? 14 : 13,
    nameTextStyle: { fontFamily: FONT, fontSize: 23, verticalAlign: 'top', rich: richName },
    axisLine: { show: true, onZero: false, lineStyle: { color: '#333', width: 1 } },
    axisTick: { show: true, inside: true, length: 6, lineStyle: { color: '#333' } },
    minorTick: { show: true, splitNumber: p.xMinor, length: 3, lineStyle: { color: '#333' } },
    axisLabel: { show: true, fontFamily: FONT, fontSize: 18, color: '#000', margin: 4, showMinLabel: true, showMaxLabel: true },
    splitLine: { show: true, lineStyle: { color: '#a0a0a0', width: 1.2 } }
  });
  yAxes.push({
    type: 'value', gridIndex: gi, min: 0, max: 14, interval: 2,
    name: p.yLabels ? '{i|d}{s|ob}{n| / }{i|L}{s|pp}' : '',
    nameLocation: 'middle', nameRotate: 90, nameGap: 27,
    nameTextStyle: { fontFamily: FONT, fontSize: 23, verticalAlign: 'bottom', rich: richName },
    axisLine: { show: true, onZero: false, lineStyle: { color: '#333', width: 1 } },
    axisTick: { show: true, inside: true, length: 6, lineStyle: { color: '#333' } },
    minorTick: { show: true, splitNumber: 4, length: 3, lineStyle: { color: '#333' } },
    axisLabel: { show: p.yLabels, fontFamily: FONT, fontSize: 18, color: '#000', margin: 4, showMinLabel: true, showMaxLabel: true },
    splitLine: { show: true, lineStyle: { color: '#a0a0a0', width: 1.2 } }
  });
  p.sets.forEach((pair, pi) => {
    const [band, thin] = pair;
    const sm = p.smooth ? (pi === 2 ? false : 0.18) : false;
    band.forEach(line => series.push({
      type: 'line', name: portNames[pi], xAxisIndex: gi, yAxisIndex: gi, data: line,
      symbol: 'none', showSymbol: false, silent: true, animation: false, clip: true, smooth: sm,
      lineStyle: { color: portColors[pi], width: 2.4 }, itemStyle: { color: portColors[pi] }
    }));
    thin.forEach(line => series.push({
      type: 'line', name: portNames[pi], xAxisIndex: gi, yAxisIndex: gi, data: line,
      symbol: 'none', showSymbol: false, silent: true, animation: false, clip: true, smooth: sm,
      lineStyle: { color: portColors[pi], width: gi < 2 ? 1 : 1.1 }, itemStyle: { color: portColors[pi] }
    }));
  });
});

const legendBase = {
  orient: 'vertical', data: portNames, icon: 'rect', itemWidth: 27, itemHeight: 2, itemGap: 4.6,
  padding: [4, 8, 4, 4], borderColor: '#333', borderWidth: 1, borderRadius: 3, backgroundColor: '#fff',
  textStyle: { fontFamily: FONT, fontSize: 12, color: '#000', lineHeight: 14, padding: [0, 0, 0, 6] },
  selectedMode: false
};

const chart = echarts.init(document.getElementById('c'), null, { renderer: 'canvas' });
chart.setOption({
  backgroundColor: '#fff',
  animation: false,
  grid: grids, xAxis: xAxes, yAxis: yAxes, series: series,
  legend: [
    Object.assign({}, legendBase, { left: 356, top: 35 }),
    Object.assign({}, legendBase, { left: 356, top: 394 })
  ],
  graphic: [
    { type: 'text', x: 195, y: 17, style: { text: 'Berthing', fontFamily: FONT, fontSize: 23, fill: '#000', align: 'center', verticalAlign: 'middle' } },
    { type: 'text', x: 483, y: 17, style: { text: 'Unberthing', fontFamily: FONT, fontSize: 23, fill: '#000', align: 'center', verticalAlign: 'middle' } },
    { type: 'text', x: 195, y: 373, style: { text: 'Berthing', fontFamily: FONT, fontSize: 23, fill: '#000', align: 'center', verticalAlign: 'middle' } },
    { type: 'text', x: 483, y: 373, style: { text: 'Unberthing', fontFamily: FONT, fontSize: 23, fill: '#000', align: 'center', verticalAlign: 'middle' } },
    { type: 'text', x: 318, y: 346, style: { text: '(a)', fontFamily: FONT, fontSize: 20, fill: '#000', align: 'center', verticalAlign: 'middle' } },
    { type: 'text', x: 322, y: 690, style: { text: '(b)', fontFamily: FONT, fontSize: 20, fill: '#000', align: 'center', verticalAlign: 'middle' } }
  ]
});
</script></body></html>
